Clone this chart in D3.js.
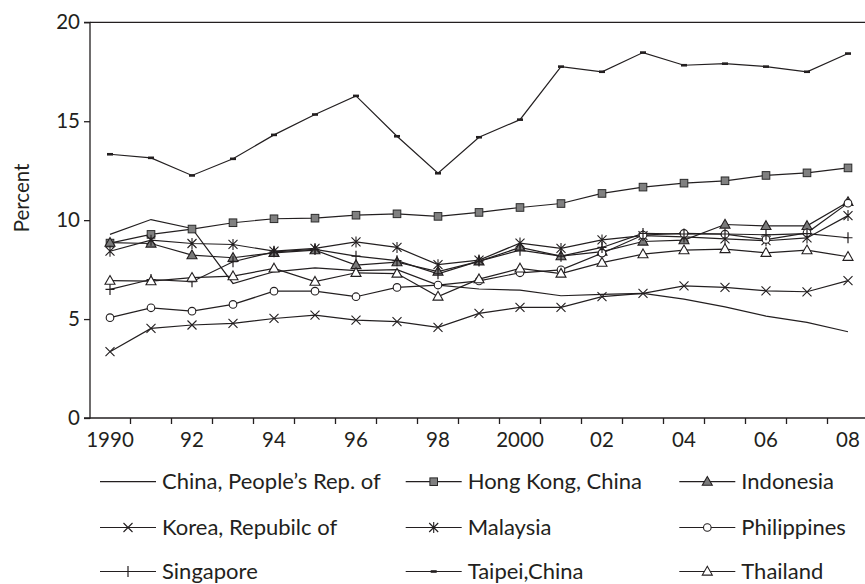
<!DOCTYPE html>
<html>
<head>
<meta charset="utf-8">
<script src="https://cdn.jsdelivr.net/npm/d3@7/dist/d3.min.js"></script>
<style>
  html, body { margin: 0; padding: 0; background: #fff; }
  svg { display: block; }
  text { font-family: Lato, "Open Sans", sans-serif; fill: #231f20; }
</style>
</head>
<body>
<svg id="chart" width="865" height="584"></svg>
<script>
const years = ["1990","1991","1992","1993","1994","1995","1996","1997","1998","1999",
               "2000","2001","2002","2003","2004","2005","2006","2007","2008"];
const tickLabels = ["1990","92","94","96","98","2000","02","04","06","08"];
const yTicks = [0, 5, 10, 15, 20];

const china       = [9.28,10.03,9.58,6.80,7.39,7.59,7.45,7.50,6.72,6.52,6.46,6.18,6.25,6.30,6.01,5.62,5.15,4.83,4.36];
const hongKong    = [8.84,9.28,9.55,9.87,10.07,10.10,10.25,10.32,10.19,10.39,10.64,10.84,11.35,11.67,11.87,11.99,12.26,12.39,12.64];
const indonesia   = [8.86,8.82,8.23,8.10,8.35,8.48,7.73,7.88,7.40,7.92,8.62,8.18,8.41,8.92,8.99,9.78,9.71,9.71,10.92];
const korea       = [3.35,4.53,4.70,4.78,5.03,5.20,4.95,4.87,4.58,5.29,5.59,5.59,6.13,6.30,6.68,6.60,6.43,6.38,6.94];
const malaysia    = [8.43,8.99,8.82,8.77,8.43,8.57,8.90,8.62,7.75,7.98,8.84,8.57,9.00,9.22,9.15,9.05,8.96,9.10,10.23];
const philippines = [5.07,5.57,5.40,5.74,6.41,6.41,6.13,6.60,6.72,6.93,7.34,7.49,8.33,9.25,9.33,9.29,9.02,9.36,10.86];
const singapore   = [6.50,7.00,6.89,7.90,8.40,8.52,8.18,7.95,7.29,7.93,8.48,8.18,8.62,9.33,9.30,9.30,9.26,9.32,9.11];
const taipei      = [13.33,13.15,12.26,13.10,14.31,15.34,16.28,14.24,12.37,14.19,15.08,17.76,17.50,18.47,17.83,17.91,17.76,17.50,18.42];
const thailand    = [6.94,6.92,7.09,7.17,7.56,6.89,7.34,7.30,6.14,7.02,7.56,7.30,7.85,8.28,8.48,8.54,8.35,8.48,8.15];

const seriesNames = ["China, People\u2019s Rep. of","Hong Kong, China","Indonesia",
                     "Korea, Repubilc of","Malaysia","Philippines",
                     "Singapore","Taipei,China","Thailand"];
const seriesValues = [china, hongKong, indonesia, korea, malaysia, philippines, singapore, taipei, thailand];
const seriesMarkers = ["none","square","triFilled","x","asterisk","circle","plus","dash","triOpen"];

const series = seriesNames.map((n, i) => ({ name: n, values: seriesValues[i], marker: seriesMarkers[i] }));

const svg = d3.select("#chart");
const plotLeft = 90, plotTop = 22.3, plotBottom = 418, plotRight = 866;
const INK = "#231f20";

const x = d3.scaleBand().domain(years).range([89.5, 868.5]).paddingInner(0).paddingOuter(0);
const y = d3.scaleLinear().domain([0, 20]).range([plotBottom, plotTop]);
const cx = d => x(d) + x.bandwidth() / 2;

// frame top line
svg.append("line").attr("x1", plotLeft).attr("x2", plotRight).attr("y1", plotTop).attr("y2", plotTop)
  .attr("stroke", INK).attr("stroke-width", 1.3);

// y axis
const yAxis = d3.axisLeft(y).tickValues(yTicks).tickSize(6).tickPadding(4).tickFormat(d3.format("d"));
const gy = svg.append("g").attr("transform", `translate(${plotLeft},0)`).call(yAxis);
gy.select(".domain").attr("stroke", INK).attr("stroke-width", 1.3).attr("d", `M-6,${plotBottom}H0V${plotTop}H-6`);
gy.selectAll(".tick line").attr("stroke", INK).attr("stroke-width", 1.3);
gy.selectAll(".tick text").attr("font-size", 20.5).attr("font-family", "Lato, sans-serif").attr("fill", INK);

// x axis: ticks at band boundaries, labels at centers
const xAxisG = svg.append("g").attr("transform", `translate(0,${plotBottom})`);
xAxisG.append("line").attr("x1", plotLeft).attr("x2", plotRight).attr("y1", 0).attr("y2", 0)
  .attr("stroke", INK).attr("stroke-width", 1.3);
years.slice(1).forEach(yr => {
  const bx = x(yr);
  xAxisG.append("line").attr("x1", bx).attr("x2", bx).attr("y1", 0).attr("y2", 6)
    .attr("stroke", INK).attr("stroke-width", 1.3);
});
years.forEach((yr, i) => {
  if (i % 2 === 0) {
    xAxisG.append("text").attr("x", cx(yr)).attr("y", 29).attr("text-anchor", "middle")
      .attr("font-size", 20.5).text(tickLabels[i / 2]);
  }
});

// y label
svg.append("text").attr("transform", "translate(29,198) rotate(-90)")
  .attr("text-anchor", "middle").attr("font-size", 20.5).text("Percent");

// marker drawing
function drawMarker(g, type, px, py) {
  if (type === "square") {
    g.append("rect").attr("x", px - 3.8).attr("y", py - 3.8).attr("width", 7.6).attr("height", 7.6)
      .attr("fill", "#808080").attr("stroke", "#2a2a2a").attr("stroke-width", 1);
  } else if (type === "triFilled" || type === "triOpen") {
    g.append("path").attr("d", `M${px},${py - 5.2}L${px + 5},${py + 3.6}L${px - 5},${py + 3.6}Z`)
      .attr("fill", type === "triFilled" ? "#7a7a7a" : "#fff").attr("stroke", INK).attr("stroke-width", 1.1);
  } else if (type === "circle") {
    g.append("circle").attr("cx", px).attr("cy", py).attr("r", 3.8)
      .attr("fill", "#fff").attr("stroke", INK).attr("stroke-width", 1.1);
  } else if (type === "x") {
    g.append("path").attr("d", `M${px - 4.5},${py - 4.5}L${px + 4.5},${py + 4.5}M${px - 4.5},${py + 4.5}L${px + 4.5},${py - 4.5}`)
      .attr("stroke", INK).attr("stroke-width", 1.1).attr("fill", "none");
  } else if (type === "asterisk") {
    g.append("path").attr("d", `M${px - 4.5},${py - 4.5}L${px + 4.5},${py + 4.5}M${px - 4.5},${py + 4.5}L${px + 4.5},${py - 4.5}M${px},${py - 5.5}L${px},${py + 5.5}`)
      .attr("stroke", INK).attr("stroke-width", 1.1).attr("fill", "none");
  } else if (type === "plus") {
    g.append("path").attr("d", `M${px - 4.5},${py}L${px + 4.5},${py}M${px},${py - 5.5}L${px},${py + 5.5}`)
      .attr("stroke", INK).attr("stroke-width", 1.2).attr("fill", "none");
  } else if (type === "dash") {
    g.append("rect").attr("x", px - 3).attr("y", py - 1.3).attr("width", 6).attr("height", 2.6)
      .attr("fill", INK);
  }
}

const line = d3.line().x((d, i) => cx(years[i])).y(d => y(d));

const plot = svg.append("g");
series.forEach(s => {
  plot.append("path").datum(s.values).attr("d", line)
    .attr("fill", "none").attr("stroke", INK).attr("stroke-width", 1.2);
});
series.forEach(s => {
  if (s.marker === "none") return;
  const g = plot.append("g");
  s.values.forEach((v, i) => drawMarker(g, s.marker, cx(years[i]), y(v)));
});

// legend
const legCols = [100, 405.7, 679.3];
const legRows = [481.7, 527.5, 571.5];
const legLen = 56;
series.forEach((s, i) => {
  const col = i % 3, row = Math.floor(i / 3);
  const lx = legCols[col], ly = legRows[row];
  const g = svg.append("g");
  g.append("line").attr("x1", lx).attr("x2", lx + legLen).attr("y1", ly).attr("y2", ly)
    .attr("stroke", INK).attr("stroke-width", 1.2);
  drawMarker(g, s.marker, lx + legLen / 2, ly);
  g.append("text").attr("x", lx + legLen + 6).attr("y", ly).attr("dy", "0.34em")
    .attr("font-size", 22).text(s.name);
});
</script>
</body>
</html>
